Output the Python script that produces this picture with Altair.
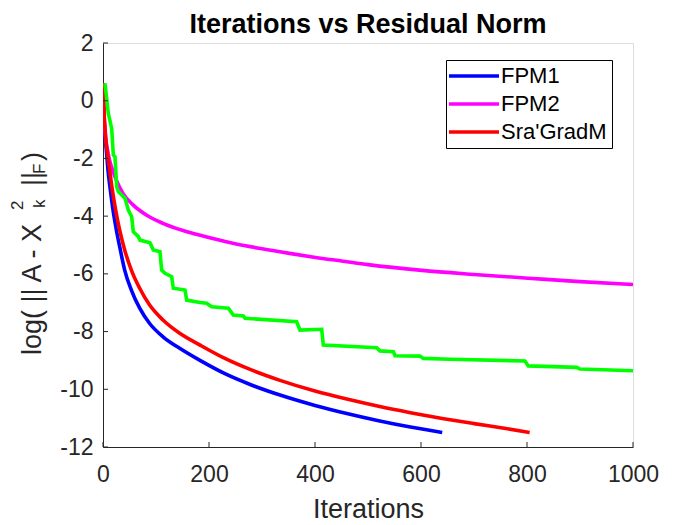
import altair as alt
import pandas as pd

# ---- data ----
fpm1_x = [0, 1, 2.5, 4, 6.3, 9.4, 13.8, 18.9, 25.2, 32.7, 40.9, 53.5, 69.2, 88, 113.2, 144.7, 183, 230, 280, 334, 400, 460, 520, 580, 640]
fpm1_y = [0.6, 0.0, -0.8, -1.25, -1.71, -2.40, -3.09, -3.79, -4.48, -5.17, -5.87, -6.56, -7.19, -7.72, -8.18, -8.58, -9.0, -9.46, -9.85, -10.2, -10.56, -10.84, -11.09, -11.31, -11.5]

fpm2_x = [0, 2, 5, 9, 13, 19, 25.2, 37.7, 56.6, 81.8, 113.2, 151, 188.7, 245, 300, 352, 401, 453, 500, 602, 700, 802, 900, 1000]
fpm2_y = [0.6, -0.5, -1.3, -1.75, -2.1, -2.45, -2.75, -3.21, -3.61, -3.96, -4.25, -4.5, -4.69, -4.94, -5.13, -5.29, -5.43, -5.56, -5.68, -5.88, -6.02, -6.15, -6.27, -6.37]

sra_x = [0, 1, 2.5, 5, 7.5, 12.6, 17.6, 23.9, 31.4, 40.9, 53.5, 69.2, 88, 113.2, 144.7, 182.4, 230, 280, 334, 400, 460, 520, 580, 640, 700, 760, 805]
sra_y = [0.6, 0.1, -0.6, -1.25, -1.71, -2.4, -3.09, -3.79, -4.48, -5.17, -5.87, -6.5, -7.08, -7.6, -8.06, -8.46, -8.93, -9.33, -9.69, -10.06, -10.34, -10.59, -10.81, -11.01, -11.19, -11.36, -11.5]

green_x = [3.8, 10, 16.4, 19.5, 22.6, 25.8, 28.9, 35.2, 41.5, 47.8, 54.1, 57.2, 66.7, 69.8, 88.7, 94.9,
           107.5, 110.7, 117, 129.6, 132.7, 154.7, 157.9, 183, 195.6, 205, 236.5, 245.9, 264.8, 268,
           365.4, 371.7, 412.6, 415.7, 516.4, 522.6, 547.8, 551, 598, 604.4, 654.7, 796.2, 802.5,
           893.7, 900, 1000]
green_y = [0.6, -0.44, -0.96, -1.88, -1.94, -2.98, -3.15, -3.27, -3.38, -3.79, -4.02, -4.54, -4.71, -4.83, -4.92, -5.17,
           -5.23, -5.87, -5.98, -6.10, -6.50, -6.56, -6.91, -6.99, -7.02, -7.14, -7.19, -7.43, -7.46, -7.54,
           -7.66, -7.95, -7.92, -8.47, -8.56, -8.67, -8.70, -8.84, -8.85, -8.93, -8.96, -9.02, -9.19,
           -9.24, -9.30, -9.36]

series_names = ["FPM1", "FPM2", "Sra'GradM", "unlabelled"]
series_colors = ["#0000ff", "#ff00ff", "#ff0000", "#00ff00"]
legend_names = ["FPM1", "FPM2", "Sra'GradM"]

x_ticks = [0, 200, 400, 600, 800, 1000]
y_ticks = [-12, -10, -8, -6, -4, -2, 0, 2]

title_text = "Iterations vs Residual Norm"
x_title = "Iterations"

FONT = "Liberation Sans"
AX = "#262626"
W, H = 530, 404

frames = []
for name, xs, ys in [("FPM1", fpm1_x, fpm1_y), ("FPM2", fpm2_x, fpm2_y),
                     ("Sra'GradM", sra_x, sra_y), ("unlabelled", green_x, green_y)]:
    frames.append(pd.DataFrame({"iter": xs, "val": ys, "series": name, "order": range(len(xs))}))
df = pd.concat(frames, ignore_index=True)

xscale = alt.Scale(domain=[0, 1000], nice=False, zero=False)
yscale = alt.Scale(domain=[-12, 2], nice=False, zero=False)

color = alt.Color(
    "series:N",
    scale=alt.Scale(domain=series_names, range=series_colors),
    legend=alt.Legend(
        values=legend_names, title=None, orient="none", legendX=343, legendY=17,
        symbolType="M-5,0H5", symbolSize=100, symbolStrokeWidth=3.5, symbolOffset=12,
        labelOffset=16, labelFontSize=22, labelFont=FONT, labelColor="black",
        strokeColor="black", fillColor="white", padding=5, rowPadding=6,
        labelLimit=300,
    ),
)

xaxis = alt.Axis(values=x_ticks, ticks=False, grid=False, domainColor=AX, domainWidth=1,
                 labelColor=AX, labelFont=FONT, labelFontSize=23, labelPadding=16,
                 labelExpr="'' + datum.value",
                 title=x_title, titleFont=FONT, titleFontSize=27, titleFontWeight="normal",
                 titleColor=AX, titlePadding=10, labelFlush=False)
yaxis = alt.Axis(values=y_ticks, ticks=False, grid=False, domainColor=AX, domainWidth=1,
                 labelColor=AX, labelFont=FONT, labelFontSize=23, labelPadding=10,
                 labelExpr="'' + datum.value", title="", labelFlush=False)

base = alt.Chart(df)
layers = []
for i, name in enumerate(series_names):
    interp = "linear" if name == "unlabelled" else "monotone"
    lyr = base.transform_filter(alt.datum.series == name).mark_line(
        strokeWidth=3.6, interpolate=interp, clip=True
    ).encode(
        x=alt.X("iter:Q", scale=xscale, axis=xaxis),
        y=alt.Y("val:Q", scale=yscale, axis=yaxis),
        color=color,
        order="order:Q",
    )
    layers.append(lyr)

# inward tick marks
ytick_df = pd.DataFrame({"v": y_ticks})
xtick_df = pd.DataFrame({"v": x_ticks})
yt = alt.Chart(ytick_df).mark_rule(color=AX, strokeWidth=1).encode(
    y=alt.Y("v:Q", scale=yscale, axis=yaxis), x=alt.value(0), x2=alt.value(5))
xt = alt.Chart(xtick_df).mark_rule(color=AX, strokeWidth=1).encode(
    x=alt.X("v:Q", scale=xscale, axis=xaxis), y=alt.value(H), y2=alt.value(H - 5))

# y-axis title with super/subscripts
one = pd.DataFrame({"a": [0]})
def ytxt(t, x, y, size):
    return alt.Chart(one).mark_text(
        text=t, angle=270, align="left", baseline="alphabetic", font=FONT,
        fontSize=size, color=AX
    ).encode(x=alt.value(x), y=alt.value(y))

ytitle = [
    ytxt("log( || A - X", -62, 312, 27),
    ytxt("2", -80, 167, 17),
    ytxt("k", -58, 165, 17),
    ytxt("||", -62, 143, 27),
    ytxt("F", -58, 131, 17),
    ytxt(")", -62, 118, 27),
]

chart = alt.layer(*layers, yt, xt, *ytitle).properties(
    width=W, height=H,
    title=alt.TitleParams(title_text, font=FONT, fontSize=27, fontWeight="bold", color="black",
                          offset=5, dy=12, frame="group", anchor="middle"),
    autosize=alt.AutoSizeParams(type="none"),
    padding={"left": 95, "top": 35, "right": 55, "bottom": 78},
).configure_view(stroke=None).configure(background="white")

chart.save("out.html", embed_options={"renderer": "svg", "actions": False})
